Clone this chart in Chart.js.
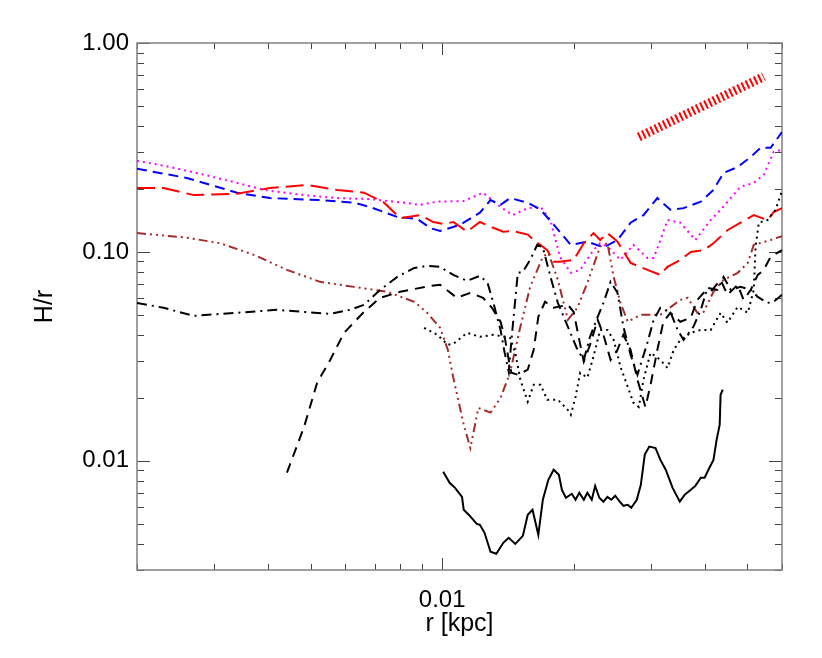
<!DOCTYPE html>
<html>
<head>
<meta charset="utf-8">
<script src="https://cdn.jsdelivr.net/npm/chart.js@4.4.1/dist/chart.umd.min.js"></script>
<style>
  body { margin: 0; background: #fff; }
  #wrap { width: 822px; height: 658px; }
</style>
</head>
<body>
<div id="wrap"><canvas id="myChart" width="822" height="658"></canvas></div>
<script>
// H/r against r [kpc], pairs are [r, H/r]
var magentaDotted = [[0.00200,0.273],[0.00238,0.255],[0.00285,0.234],[0.00339,0.214],[0.00391,0.198],[0.00483,0.187],
	[0.00574,0.181],[0.00684,0.179],[0.00818,0.172],[0.00890,0.168],[0.00974,0.174],[0.0112,0.175],[0.0124,0.192],
	[0.0136,0.164],[0.0145,0.150],[0.0157,0.162],[0.0168,0.164],[0.0177,0.142],[0.0186,0.0947],[0.0197,0.0794],
	[0.0207,0.0820],[0.0222,0.102],[0.0230,0.110],[0.0239,0.106],[0.0256,0.0916],[0.0274,0.108],[0.0295,0.0936],
	[0.0305,0.0936],[0.0316,0.114],[0.0328,0.142],[0.0351,0.138],[0.0380,0.114],[0.0412,0.142],[0.0434,0.159],
	[0.0482,0.205],[0.0517,0.214],[0.0545,0.234],[0.0574,0.301],[0.0600,0.308]];

var blueDashed = [[0.00200,0.250],[0.00260,0.226],[0.00339,0.192],[0.00403,0.181],[0.00525,0.177],[0.00628,0.172],
	[0.00684,0.164],[0.00789,0.147],[0.00876,0.144],[0.00939,0.130],[0.00989,0.126],[0.0110,0.135],[0.0122,0.154],
	[0.0129,0.177],[0.0136,0.168],[0.0143,0.181],[0.0157,0.172],[0.0168,0.159],[0.0180,0.135],[0.0197,0.108],
	[0.0215,0.112],[0.0234,0.105],[0.0252,0.114],[0.0270,0.138],[0.0289,0.150],[0.0311,0.181],[0.0333,0.159],
	[0.0357,0.162],[0.0391,0.174],[0.0418,0.198],[0.0441,0.239],[0.0475,0.255],[0.0509,0.285],[0.0536,0.315],
	[0.0565,0.315],[0.0600,0.375]];

var redLongDash = [[0.00200,0.202],[0.00230,0.202],[0.00270,0.187],[0.00339,0.190],[0.00403,0.202],[0.00490,0.209],
	[0.00574,0.198],[0.00662,0.192],[0.00736,0.172],[0.00801,0.145],[0.00890,0.150],[0.00954,0.139],[0.0101,0.136],
	[0.0106,0.139],[0.0114,0.125],[0.0122,0.139],[0.0129,0.132],[0.0138,0.125],[0.0145,0.126],[0.0157,0.121],
	[0.0162,0.114],[0.0174,0.102],[0.0180,0.0896],[0.0186,0.0896],[0.0200,0.0916],[0.0211,0.110],[0.0222,0.123],
	[0.0230,0.114],[0.0239,0.123],[0.0252,0.112],[0.0270,0.0886],[0.0295,0.0820],[0.0316,0.0776],[0.0328,0.0848],
	[0.0351,0.0916],[0.0371,0.100],[0.0397,0.102],[0.0418,0.110],[0.0450,0.127],[0.0482,0.138],[0.0517,0.150],
	[0.0556,0.142],[0.0574,0.155],[0.0600,0.162]];

var brownDashDots = [[0.00200,0.123],[0.00260,0.117],[0.00310,0.110],[0.00371,0.0967],[0.00441,0.0820],[0.00525,0.0719],
	[0.00628,0.0680],[0.00748,0.0644],[0.00863,0.0577],[0.00924,0.0511],[0.00989,0.0433],[0.0103,0.0340],[0.0106,0.0250],
	[0.0112,0.0149],[0.0116,0.0115],[0.0121,0.0179],[0.0129,0.0170],[0.0136,0.0200],[0.0143,0.0264],[0.0151,0.0438],
	[0.0159,0.0680],[0.0170,0.0947],[0.0175,0.0989],[0.0184,0.0735],[0.0194,0.0473],[0.0204,0.0540],[0.0215,0.0711],
	[0.0230,0.106],[0.0239,0.110],[0.0247,0.0759],[0.0256,0.0570],[0.0266,0.0463],[0.0285,0.0500],[0.0316,0.0500],
	[0.0351,0.0589],[0.0365,0.0603],[0.0384,0.0511],[0.0397,0.0516],[0.0418,0.0644],[0.0441,0.0735],[0.0475,0.0794],
	[0.0501,0.0886],[0.0517,0.108],[0.0565,0.114],[0.0600,0.119]];

var blackDashDot = [[0.00200,0.0570],[0.00230,0.0540],[0.00270,0.0494],[0.00339,0.0511],[0.00418,0.0528],[0.00483,0.0516],
	[0.00554,0.0505],[0.00615,0.0528],[0.00662,0.0558],[0.00721,0.0658],[0.00789,0.0759],[0.00863,0.0838],[0.00924,0.0857],
	[0.00989,0.0848],[0.0106,0.0776],[0.0114,0.0727],[0.0122,0.0768],[0.0127,0.0711],[0.0131,0.0570],[0.0136,0.0423],
	[0.0139,0.0329],[0.0142,0.0267],[0.0145,0.0438],[0.0149,0.0794],[0.0153,0.0802],[0.0159,0.0916],[0.0165,0.108],
	[0.0170,0.105],[0.0177,0.0759],[0.0184,0.0570],[0.0194,0.0438],[0.0204,0.0340],[0.0211,0.0304],[0.0218,0.0392],
	[0.0227,0.0489],[0.0234,0.0570],[0.0243,0.0719],[0.0252,0.0637],[0.0260,0.0438],[0.0270,0.0322],[0.0280,0.0258],
	[0.0295,0.0367],[0.0305,0.0473],[0.0316,0.0540],[0.0333,0.0516],[0.0346,0.0423],[0.0357,0.0379],[0.0376,0.0438],
	[0.0391,0.0528],[0.0405,0.0673],[0.0427,0.0658],[0.0441,0.0759],[0.0458,0.0658],[0.0482,0.0680],[0.0509,0.0658],
	[0.0528,0.0609],[0.0556,0.0570],[0.0574,0.0577],[0.0600,0.0623]];

var blackDashed = [[0.00441,0.00877],[0.00483,0.0146],[0.00517,0.0236],[0.00554,0.0304],[0.00596,0.0410],[0.00662,0.0516],
	[0.00721,0.0603],[0.00801,0.0644],[0.00939,0.0688],[0.00989,0.0696],[0.0108,0.0603],[0.0116,0.0637],[0.0124,0.0603],
	[0.0130,0.0540],[0.0136,0.0463],[0.0139,0.0392],[0.0142,0.0304],[0.0144,0.0264],[0.0149,0.0258],[0.0157,0.0273],
	[0.0162,0.0340],[0.0166,0.0489],[0.0172,0.0577],[0.0180,0.0540],[0.0194,0.0558],[0.0200,0.0516],[0.0206,0.0379],
	[0.0211,0.0298],[0.0218,0.0359],[0.0227,0.0473],[0.0234,0.0401],[0.0243,0.0304],[0.0252,0.0340],[0.0260,0.0401],
	[0.0270,0.0340],[0.0280,0.0244],[0.0292,0.0181],[0.0300,0.0231],[0.0311,0.0340],[0.0321,0.0463],[0.0333,0.0511],
	[0.0351,0.0463],[0.0371,0.0484],[0.0384,0.0589],[0.0397,0.0637],[0.0412,0.0644],[0.0434,0.0735],[0.0450,0.0623],
	[0.0475,0.0696],[0.0490,0.0589],[0.0509,0.0658],[0.0528,0.0776],[0.0545,0.0820],[0.0565,0.0947],[0.0600,0.102]];

var blackDotted = [[0.00909,0.0433],[0.00974,0.0401],[0.0103,0.0359],[0.0106,0.0363],[0.0114,0.0410],[0.0122,0.0392],
	[0.0131,0.0401],[0.0143,0.0388],[0.0147,0.0329],[0.0151,0.0244],[0.0157,0.0192],[0.0162,0.0231],[0.0168,0.0231],
	[0.0174,0.0196],[0.0184,0.0196],[0.0194,0.0175],[0.0197,0.0166],[0.0202,0.0202],[0.0207,0.0264],[0.0215,0.0250],
	[0.0222,0.0315],[0.0230,0.0423],[0.0239,0.0423],[0.0247,0.0379],[0.0256,0.0282],[0.0266,0.0226],[0.0274,0.0190],
	[0.0282,0.0181],[0.0289,0.0244],[0.0300,0.0329],[0.0316,0.0304],[0.0328,0.0278],[0.0339,0.0340],[0.0351,0.0379],
	[0.0371,0.0410],[0.0391,0.0423],[0.0412,0.0423],[0.0434,0.0511],[0.0450,0.0458],[0.0475,0.0546],[0.0501,0.0511],
	[0.0517,0.0658],[0.0522,0.106],[0.0531,0.138],[0.0556,0.142],[0.0580,0.159],[0.0598,0.192]];

var blackSolid = [[0.01005,0.00886],[0.0104,0.00784],[0.0107,0.00742],[0.0111,0.00672],[0.0112,0.00583],[0.0115,0.00552],
	[0.0120,0.00499],[0.0122,0.00494],[0.0125,0.00452],[0.0129,0.00367],[0.0133,0.00359],[0.0138,0.00405],[0.0142,0.00428],
	[0.0147,0.00400],[0.0153,0.00437],[0.0157,0.00552],[0.0161,0.00583],[0.0166,0.00442],[0.0170,0.00651],[0.0175,0.00811],
	[0.0180,0.00906],[0.0185,0.00857],[0.0188,0.00726],[0.0192,0.00665],[0.0198,0.00695],[0.0202,0.00651],[0.0206,0.00703],
	[0.0211,0.00651],[0.0215,0.00703],[0.0220,0.00651],[0.0224,0.00758],[0.0229,0.00665],[0.0234,0.00637],[0.0239,0.00672],
	[0.0244,0.00651],[0.0249,0.00680],[0.0255,0.00637],[0.0260,0.00609],[0.0266,0.00616],[0.0271,0.00596],[0.0279,0.00651],
	[0.0285,0.00767],[0.0291,0.0107],[0.0298,0.0117],[0.0308,0.0115],[0.0316,0.0101],[0.0325,0.00906],[0.0337,0.00742],
	[0.0350,0.00637],[0.0359,0.00687],[0.0371,0.00726],[0.0380,0.00758],[0.0391,0.00829],[0.0399,0.00829],[0.0407,0.00906],
	[0.0418,0.0101],[0.0425,0.0126],[0.0432,0.0149],[0.0434,0.0207],[0.0439,0.0219]];

// the slope-one guide line at the top right
var guideLine = [[0.0282,0.355],[0.0545,0.69]];

var xTicks = [0.002,0.003,0.004,0.005,0.006,0.007,0.008,0.009,0.01,0.02,0.03,0.04,0.05,0.06];
var yTicks = [0.003,0.004,0.005,0.006,0.007,0.008,0.009,0.01,0.02,0.03,0.04,0.05,0.06,0.07,0.08,0.09,
	0.1,0.2,0.3,0.4,0.5,0.6,0.7,0.8,0.9,1];
var xLabelled = [0.01];
var xLabelText = ['0.01'];
var yLabelled = [1, 0.1, 0.01];
var yLabelText = ['1.00', '0.10', '0.01'];

var fontFamily = "'Liberation Sans', Arial, Helvetica, sans-serif";

function labelIndex(list, v) {
	for (var i = 0; i < list.length; i++) {
		if (Math.abs(Math.log10(list[i]) - Math.log10(v)) < 1e-6) return i;
	}
	return -1;
}

function toPoints(arr) {
	return arr.map(function(p) { return {x: p[0], y: p[1]}; });
}

function line(arr, color, dash, width) {
	return {
		data: toPoints(arr),
		borderColor: color,
		borderDash: dash,
		borderWidth: width || 2,
		pointRadius: 0,
		showLine: true,
		fill: false,
		tension: 0
	};
}

// IDL style box with ticks pointing inwards on all four sides
var frameTicks = {
	id: "frameTicks",
	beforeDatasetsDraw: function(chart) {
		var ctx = chart.ctx;
		var a = chart.chartArea;
		var xs = chart.scales.x;
		var ys = chart.scales.y;
		ctx.save();
		ctx.strokeStyle = "#444";
		ctx.lineWidth = 1;
		ctx.beginPath();
		xs.ticks.forEach(function(t) {
			var px = Math.round(xs.getPixelForValue(t.value)) + 0.5;
			var len = labelIndex(xLabelled, t.value) >= 0 ? 12 : 6;
			ctx.moveTo(px, a.bottom); ctx.lineTo(px, a.bottom - len);
			ctx.moveTo(px, a.top); ctx.lineTo(px, a.top + len);
		});
		ys.ticks.forEach(function(t) {
			var py = Math.round(ys.getPixelForValue(t.value)) + 0.5;
			var len = labelIndex(yLabelled, t.value) >= 0 ? 13 : 7;
			ctx.moveTo(a.left, py); ctx.lineTo(a.left + len, py);
			ctx.moveTo(a.right, py); ctx.lineTo(a.right - len, py);
		});
		ctx.stroke();
		ctx.strokeStyle = "#808080";
		ctx.lineWidth = 1.5;
		ctx.strokeRect(a.left, a.top, a.right - a.left, a.bottom - a.top);
		ctx.restore();
	}
};

var ctx = document.getElementById("myChart").getContext("2d");
var chart = new Chart(ctx, {
	type: "scatter",
	data: {
		datasets: [
			line(guideLine, "#ff0000", [2, 2.6], 9),
			line(blackSolid, "#000000", [], 2),
			line(blackDotted, "#000000", [2, 4], 2),
			line(blackDashed, "#000000", [10, 7], 2),
			line(blackDashDot, "#000000", [10, 5, 2, 5], 2),
			line(brownDashDots, "#a52a2a", [9, 4, 2, 4, 2, 4, 2, 4], 2),
			line(redLongDash, "#ff0000", [18, 7], 2),
			line(blueDashed, "#0000ff", [10, 6], 2),
			line(magentaDotted, "#ff00ff", [2, 4], 2)
		]
	},
	options: {
		responsive: false,
		animation: false,
		devicePixelRatio: 1,
		layout: { padding: { top: 43, right: 40, left: 0, bottom: 0 } },
		plugins: {
			legend: { display: false },
			tooltip: { enabled: false }
		},
		scales: {
			x: {
				type: "logarithmic",
				position: "bottom",
				min: 0.002,
				max: 0.06,
				afterFit: function(s) { s.height = 88; },
				afterBuildTicks: function(s) {
					s.ticks = xTicks.map(function(v) { return {value: v}; });
				},
				grid: { display: false, drawTicks: false },
				border: { display: false },
				ticks: {
					autoSkip: false,
					maxRotation: 0,
					padding: 16,
					color: "#000",
					font: { family: fontFamily, size: 24 },
					callback: function(v) {
						var i = labelIndex(xLabelled, v);
						return i >= 0 ? xLabelText[i] : "";
					}
				},
				title: {
					display: true,
					text: "r [kpc]",
					color: "#000",
					font: { family: fontFamily, size: 25 },
					padding: { top: 0, bottom: 19 }
				}
			},
			y: {
				type: "logarithmic",
				position: "left",
				min: 0.003,
				max: 1,
				afterFit: function(s) { s.width = 137; },
				afterBuildTicks: function(s) {
					s.ticks = yTicks.map(function(v) { return {value: v}; });
				},
				grid: { display: false, drawTicks: false },
				border: { display: false },
				ticks: {
					autoSkip: false,
					padding: 8,
					color: "#000",
					font: { family: fontFamily, size: 24 },
					callback: function(v) {
						var i = labelIndex(yLabelled, v);
						return i >= 0 ? yLabelText[i] : "";
					}
				},
				title: {
					display: true,
					text: "H/r",
					color: "#000",
					font: { family: fontFamily, size: 25 },
					padding: { top: 30, bottom: 0 }
				}
			}
		}
	},
	plugins: [frameTicks]
});
</script>
</body>
</html>
